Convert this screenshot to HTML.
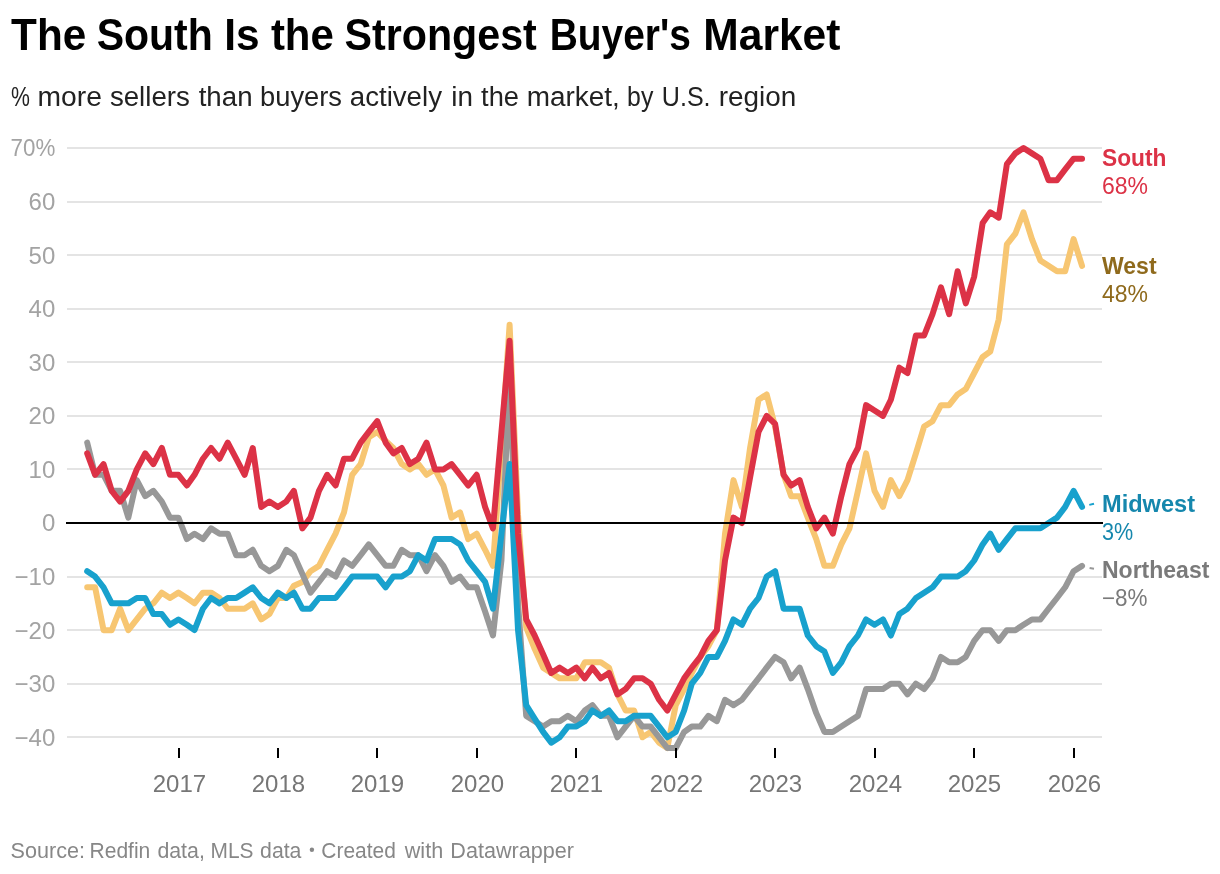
<!DOCTYPE html>
<html><head><meta charset="utf-8"><title>The South Is the Strongest Buyer's Market</title>
<style>
html,body{margin:0;padding:0;background:#fff;}
body{width:1220px;height:874px;overflow:hidden;}
svg{display:block;will-change:transform;}
text{font-family:"Liberation Sans",sans-serif;}
.title{font-size:44px;font-weight:bold;fill:#000;}
.sub{font-size:27px;fill:#222;}
.yl{font-size:24px;fill:#a3a3a3;}
.xl{font-size:24px;fill:#767676;}
.ln{font-size:23px;font-weight:bold;}
.lv{font-size:23px;}
.foot{font-size:21.3px;fill:#878787;}
</style></head><body>
<svg width="1220" height="874" viewBox="0 0 1220 874">
<rect width="1220" height="874" fill="#ffffff"/>
<rect x="67" y="736" width="1035" height="2" fill="#e4e4e4"/>
<rect x="67" y="683" width="1035" height="2" fill="#e4e4e4"/>
<rect x="67" y="629" width="1035" height="2" fill="#e4e4e4"/>
<rect x="67" y="576" width="1035" height="2" fill="#e4e4e4"/>
<rect x="67" y="468" width="1035" height="2" fill="#e4e4e4"/>
<rect x="67" y="415" width="1035" height="2" fill="#e4e4e4"/>
<rect x="67" y="361" width="1035" height="2" fill="#e4e4e4"/>
<rect x="67" y="308" width="1035" height="2" fill="#e4e4e4"/>
<rect x="67" y="254" width="1035" height="2" fill="#e4e4e4"/>
<rect x="67" y="201" width="1035" height="2" fill="#e4e4e4"/>
<rect x="67" y="147" width="1035" height="2" fill="#e4e4e4"/>
<text x="55.3" y="745.68" text-anchor="end" class="yl">−40</text>
<text x="55.3" y="692.11" text-anchor="end" class="yl">−30</text>
<text x="55.3" y="638.54" text-anchor="end" class="yl">−20</text>
<text x="55.3" y="584.97" text-anchor="end" class="yl">−10</text>
<text x="55.3" y="531.40" text-anchor="end" class="yl">0</text>
<text x="55.3" y="477.83" text-anchor="end" class="yl">10</text>
<text x="55.3" y="424.26" text-anchor="end" class="yl">20</text>
<text x="55.3" y="370.69" text-anchor="end" class="yl">30</text>
<text x="55.3" y="317.12" text-anchor="end" class="yl">40</text>
<text x="55.3" y="263.55" text-anchor="end" class="yl">50</text>
<text x="55.3" y="209.98" text-anchor="end" class="yl">60</text>
<text x="55.3" y="156.41" text-anchor="end" class="yl" textLength="44.70" lengthAdjust="spacingAndGlyphs">70%</text>
<path d="M87.20,587.28L95.10,587.28L103.54,630.14L111.71,630.14L120.15,608.71L128.32,630.14L136.77,619.43L145.21,608.71L153.38,603.36L161.82,592.64L169.99,598.00L178.43,592.64L186.88,598.00L194.50,603.36L202.94,592.64L211.11,592.64L219.56,598.00L227.73,608.71L236.17,608.71L244.61,608.71L252.78,603.36L261.22,619.43L269.39,614.07L277.84,598.00L286.28,598.00L293.90,585.68L302.35,581.93L310.52,571.21L318.96,565.86L327.13,549.78L335.57,533.71L344.01,512.29L352.18,474.79L360.63,464.07L368.80,437.29L377.24,431.93L385.68,441.04L393.31,448.00L401.75,464.07L409.92,469.43L418.36,464.07L426.53,474.79L434.98,469.43L443.42,485.50L451.59,517.64L460.03,512.29L468.20,539.07L476.64,533.71L485.09,549.78L492.98,565.86L501.43,445.32L509.60,324.79L518.04,514.96L526.21,627.46L534.65,648.89L543.09,667.64L551.26,673.00L559.71,678.35L567.88,678.35L576.32,678.35L584.76,662.28L592.39,662.28L600.83,662.28L609.00,667.64L617.44,694.42L625.61,710.50L634.05,710.50L642.50,737.28L650.67,731.92L659.11,742.64L667.28,747.99L675.72,705.14L684.16,689.07L691.79,673.00L700.23,656.92L708.40,646.21L716.85,630.14L725.02,533.71L733.46,480.14L741.90,506.93L750.07,448.00L758.51,399.79L766.68,394.43L775.13,426.57L783.57,474.79L791.19,496.21L799.64,496.21L807.81,517.64L816.25,539.07L824.42,565.86L832.86,565.86L841.30,544.43L849.47,528.36L857.92,490.86L866.09,453.36L874.53,490.86L882.97,506.93L890.87,480.14L899.31,496.21L907.48,480.14L915.92,453.36L924.09,426.57L932.54,421.22L940.98,405.15L949.15,405.15L957.59,394.43L965.76,389.07L974.20,373.00L982.65,356.93L990.27,351.58L998.71,319.43L1006.88,244.44L1015.33,233.72L1023.50,212.29L1031.94,239.08L1040.38,260.51L1048.55,265.86L1056.99,271.22L1065.17,271.22L1073.61,239.08L1082.05,265.86" fill="none" stroke="#f7c672" stroke-width="6" stroke-linejoin="round" stroke-linecap="round"/>
<path d="M87.20,442.64L95.10,474.79L103.54,474.79L111.71,490.86L120.15,490.86L128.32,517.64L136.77,480.14L145.21,496.21L153.38,490.86L161.82,501.57L169.99,517.64L178.43,517.64L186.88,539.07L194.50,533.71L202.94,539.07L211.11,528.36L219.56,533.71L227.73,533.71L236.17,555.14L244.61,555.14L252.78,549.78L261.22,565.86L269.39,571.21L277.84,565.86L286.28,549.78L293.90,555.14L302.35,573.89L310.52,592.64L318.96,581.93L327.13,571.21L335.57,576.57L344.01,560.50L352.18,565.86L360.63,555.14L368.80,544.43L377.24,555.14L385.68,565.86L393.31,565.86L401.75,549.78L409.92,555.14L418.36,555.14L426.53,571.21L434.98,555.14L443.42,565.86L451.59,581.93L460.03,576.57L468.20,587.28L476.64,587.28L485.09,611.39L492.98,635.50L501.43,560.50L509.60,373.00L518.04,603.36L526.21,715.85L534.65,721.21L543.09,726.57L551.26,721.21L559.71,721.21L567.88,715.85L576.32,721.21L584.76,710.50L592.39,705.14L600.83,715.85L609.00,715.85L617.44,737.28L625.61,726.57L634.05,715.85L642.50,726.57L650.67,726.57L659.11,737.28L667.28,747.99L675.72,747.99L684.16,731.92L691.79,726.57L700.23,726.57L708.40,715.85L716.85,721.21L725.02,699.78L733.46,705.14L741.90,699.78L750.07,689.07L758.51,678.35L766.68,667.64L775.13,656.92L783.57,662.28L791.19,678.35L799.64,667.64L807.81,689.07L816.25,713.17L824.42,731.92L832.86,731.92L841.30,726.57L849.47,721.21L857.92,715.85L866.09,689.07L874.53,689.07L882.97,689.07L890.87,683.71L899.31,683.71L907.48,694.42L915.92,683.71L924.09,689.07L932.54,678.35L940.98,656.92L949.15,662.28L957.59,662.28L965.76,656.92L974.20,640.85L982.65,630.14L990.27,630.14L998.71,640.85L1006.88,630.14L1015.33,630.14L1023.50,624.78L1031.94,619.43L1040.38,619.43L1048.55,608.71L1056.99,598.00L1065.17,587.28L1073.61,571.21L1082.05,565.86" fill="none" stroke="#989898" stroke-width="6" stroke-linejoin="round" stroke-linecap="round"/>
<path d="M87.20,571.21L95.10,576.57L103.54,587.28L111.71,603.36L120.15,603.36L128.32,603.36L136.77,598.00L145.21,598.00L153.38,614.07L161.82,614.07L169.99,624.78L178.43,619.43L186.88,624.78L194.50,630.14L202.94,608.71L211.11,598.00L219.56,603.36L227.73,598.00L236.17,598.00L244.61,592.64L252.78,587.28L261.22,598.00L269.39,603.36L277.84,592.64L286.28,598.00L293.90,592.64L302.35,608.71L310.52,608.71L318.96,598.00L327.13,598.00L335.57,598.00L344.01,587.28L352.18,576.57L360.63,576.57L368.80,576.57L377.24,576.57L385.68,587.28L393.31,576.57L401.75,576.57L409.92,571.21L418.36,555.14L426.53,560.50L434.98,539.07L443.42,539.07L451.59,539.07L460.03,544.43L468.20,560.50L476.64,571.21L485.09,581.93L492.98,608.71L501.43,533.71L509.60,464.07L518.04,630.14L526.21,705.14L534.65,718.53L543.09,731.92L551.26,742.64L559.71,737.28L567.88,726.57L576.32,726.57L584.76,721.21L592.39,710.50L600.83,715.85L609.00,710.50L617.44,721.21L625.61,721.21L634.05,715.85L642.50,715.85L650.67,715.85L659.11,726.57L667.28,737.28L675.72,731.92L684.16,710.50L691.79,683.71L700.23,673.00L708.40,656.92L716.85,656.92L725.02,640.85L733.46,619.43L741.90,624.78L750.07,608.71L758.51,598.00L766.68,576.57L775.13,571.21L783.57,608.71L791.19,608.71L799.64,608.71L807.81,635.50L816.25,646.21L824.42,651.57L832.86,673.00L841.30,662.28L849.47,646.21L857.92,635.50L866.09,619.43L874.53,624.78L882.97,619.43L890.87,635.50L899.31,614.07L907.48,608.71L915.92,598.00L924.09,592.64L932.54,587.28L940.98,576.57L949.15,576.57L957.59,576.57L965.76,571.21L974.20,560.50L982.65,544.43L990.27,533.71L998.71,549.78L1006.88,539.07L1015.33,528.36L1023.50,528.36L1031.94,528.36L1040.38,528.36L1048.55,523.00L1056.99,517.64L1065.17,506.93L1073.61,490.86L1082.05,506.93" fill="none" stroke="#18a1cd" stroke-width="6" stroke-linejoin="round" stroke-linecap="round"/>
<path d="M87.20,453.36L95.10,474.79L103.54,464.07L111.71,490.86L120.15,501.57L128.32,490.86L136.77,469.43L145.21,453.36L153.38,464.07L161.82,448.00L169.99,474.79L178.43,474.79L186.88,485.50L194.50,474.79L202.94,458.72L211.11,448.00L219.56,458.72L227.73,442.64L236.17,458.72L244.61,474.79L252.78,448.00L261.22,506.93L269.39,501.57L277.84,506.93L286.28,501.57L293.90,490.86L302.35,528.36L310.52,517.64L318.96,490.86L327.13,474.79L335.57,485.50L344.01,458.72L352.18,458.72L360.63,442.64L368.80,431.93L377.24,421.22L385.68,442.64L393.31,453.36L401.75,448.00L409.92,464.07L418.36,458.72L426.53,442.64L434.98,469.43L443.42,469.43L451.59,464.07L460.03,474.79L468.20,485.50L476.64,474.79L485.09,506.93L492.98,528.36L501.43,431.93L509.60,340.86L518.04,533.71L526.21,619.43L534.65,635.50L543.09,654.25L551.26,673.00L559.71,667.64L567.88,673.00L576.32,667.64L584.76,678.35L592.39,667.64L600.83,678.35L609.00,673.00L617.44,694.42L625.61,689.07L634.05,678.35L642.50,678.35L650.67,683.71L659.11,699.78L667.28,710.50L675.72,694.42L684.16,678.35L691.79,667.64L700.23,656.92L708.40,640.85L716.85,630.14L725.02,560.50L733.46,517.64L741.90,523.00L750.07,477.47L758.51,431.93L766.68,415.86L775.13,423.90L783.57,474.79L791.19,485.50L799.64,480.14L807.81,506.93L816.25,528.36L824.42,517.64L832.86,533.71L841.30,496.21L849.47,464.07L857.92,448.00L866.09,405.15L874.53,410.50L882.97,415.86L890.87,399.79L899.31,367.65L907.48,373.00L915.92,335.50L924.09,335.50L932.54,314.08L940.98,287.29L949.15,314.08L957.59,271.22L965.76,303.36L974.20,276.58L982.65,223.01L990.27,212.29L998.71,217.65L1006.88,164.08L1015.33,153.37L1023.50,148.01L1031.94,153.37L1040.38,158.72L1048.55,180.15L1056.99,180.15L1065.17,169.44L1073.61,158.72L1082.05,158.72" fill="none" stroke="#dc3246" stroke-width="6" stroke-linejoin="round" stroke-linecap="round"/>
<rect x="66" y="522" width="1037" height="2" fill="#000"/>
<rect x="178" y="748" width="2" height="10" fill="#000"/>
<text x="179.40" y="792.1" text-anchor="middle" class="xl">2017</text>
<rect x="277" y="748" width="2" height="10" fill="#000"/>
<text x="278.40" y="792.1" text-anchor="middle" class="xl">2018</text>
<rect x="376" y="748" width="2" height="10" fill="#000"/>
<text x="377.40" y="792.1" text-anchor="middle" class="xl">2019</text>
<rect x="476" y="748" width="2" height="10" fill="#000"/>
<text x="477.40" y="792.1" text-anchor="middle" class="xl">2020</text>
<rect x="575" y="748" width="2" height="10" fill="#000"/>
<text x="576.40" y="792.1" text-anchor="middle" class="xl">2021</text>
<rect x="675" y="748" width="2" height="10" fill="#000"/>
<text x="676.40" y="792.1" text-anchor="middle" class="xl">2022</text>
<rect x="774" y="748" width="2" height="10" fill="#000"/>
<text x="775.40" y="792.1" text-anchor="middle" class="xl">2023</text>
<rect x="874" y="748" width="2" height="10" fill="#000"/>
<text x="875.40" y="792.1" text-anchor="middle" class="xl">2024</text>
<rect x="973" y="748" width="2" height="10" fill="#000"/>
<text x="974.40" y="792.1" text-anchor="middle" class="xl">2025</text>
<rect x="1073" y="748" width="2" height="10" fill="#000"/>
<text x="1074.40" y="792.1" text-anchor="middle" class="xl">2026</text>
<line x1="1089.3" y1="504.9" x2="1094" y2="503.8" stroke="#18a1cd" stroke-width="2"/>
<line x1="1089.6" y1="567.9" x2="1094" y2="568.8" stroke="#989898" stroke-width="2"/>
<text x="1102.00" y="166.0" class="ln" fill="#dc3246" textLength="64.40" lengthAdjust="spacingAndGlyphs">South</text>
<text x="1102.00" y="194.0" class="lv" fill="#dc3246">68%</text>
<text x="1102.00" y="273.8" class="ln" fill="#8f6a1c">West</text>
<text x="1102.00" y="301.8" class="lv" fill="#8f6a1c">48%</text>
<text x="1102.00" y="511.6" class="ln" fill="#1587ad" textLength="93.00" lengthAdjust="spacingAndGlyphs">Midwest</text>
<text x="1102.00" y="539.6" class="lv" fill="#1587ad" textLength="31.20" lengthAdjust="spacingAndGlyphs">3%</text>
<text x="1102.00" y="577.6" class="ln" fill="#7a7a7a">Northeast</text>
<text x="1102.00" y="605.6" class="lv" fill="#7a7a7a" textLength="45.60" lengthAdjust="spacingAndGlyphs">−8%</text>
<text x="11.10" y="49.6" class="title" textLength="75.11" lengthAdjust="spacingAndGlyphs">The</text>
<text x="96.67" y="49.6" class="title" textLength="116.08" lengthAdjust="spacingAndGlyphs">South</text>
<text x="224.27" y="49.6" class="title" textLength="35.34" lengthAdjust="spacingAndGlyphs">Is</text>
<text x="270.90" y="49.6" class="title" textLength="62.90" lengthAdjust="spacingAndGlyphs">the</text>
<text x="344.46" y="49.6" class="title" textLength="192.41" lengthAdjust="spacingAndGlyphs">Strongest</text>
<text x="549.73" y="49.6" class="title" textLength="141.07" lengthAdjust="spacingAndGlyphs">Buyer's</text>
<text x="703.27" y="49.6" class="title" textLength="137.20" lengthAdjust="spacingAndGlyphs">Market</text>
<text x="11.10" y="105.7" class="sub" textLength="18.91" lengthAdjust="spacingAndGlyphs">%</text>
<text x="37.55" y="105.7" class="sub" textLength="64.31" lengthAdjust="spacingAndGlyphs">more</text>
<text x="109.90" y="105.7" class="sub" textLength="79.91" lengthAdjust="spacingAndGlyphs">sellers</text>
<text x="198.70" y="105.7" class="sub" textLength="53.84" lengthAdjust="spacingAndGlyphs">than</text>
<text x="260.09" y="105.7" class="sub" textLength="81.92" lengthAdjust="spacingAndGlyphs">buyers</text>
<text x="349.78" y="105.7" class="sub" textLength="92.21" lengthAdjust="spacingAndGlyphs">actively</text>
<text x="451.37" y="105.7" class="sub" textLength="21.68" lengthAdjust="spacingAndGlyphs">in</text>
<text x="481.10" y="105.7" class="sub" textLength="37.93" lengthAdjust="spacingAndGlyphs">the</text>
<text x="526.67" y="105.7" class="sub" textLength="93.09" lengthAdjust="spacingAndGlyphs">market,</text>
<text x="627.08" y="105.7" class="sub" textLength="26.26" lengthAdjust="spacingAndGlyphs">by</text>
<text x="661.84" y="105.7" class="sub" textLength="48.75" lengthAdjust="spacingAndGlyphs">U.S.</text>
<text x="718.67" y="105.7" class="sub" textLength="77.58" lengthAdjust="spacingAndGlyphs">region</text>
<text x="10.60" y="857.8" class="foot" textLength="74.44" lengthAdjust="spacingAndGlyphs">Source:</text>
<text x="89.51" y="857.8" class="foot" textLength="60.82" lengthAdjust="spacingAndGlyphs">Redfin</text>
<text x="157.40" y="857.8" class="foot" textLength="47.42" lengthAdjust="spacingAndGlyphs">data,</text>
<text x="210.52" y="857.8" class="foot" textLength="42.98" lengthAdjust="spacingAndGlyphs">MLS</text>
<text x="260.10" y="857.8" class="foot" textLength="41.34" lengthAdjust="spacingAndGlyphs">data</text>
<circle cx="311.9" cy="849.8" r="2.2" fill="#878787"/>
<text x="321.32" y="857.8" class="foot" textLength="74.62" lengthAdjust="spacingAndGlyphs">Created</text>
<text x="404.72" y="857.8" class="foot" textLength="38.44" lengthAdjust="spacingAndGlyphs">with</text>
<text x="450.39" y="857.8" class="foot" textLength="123.51" lengthAdjust="spacingAndGlyphs">Datawrapper</text>
</svg>
</body></html>
